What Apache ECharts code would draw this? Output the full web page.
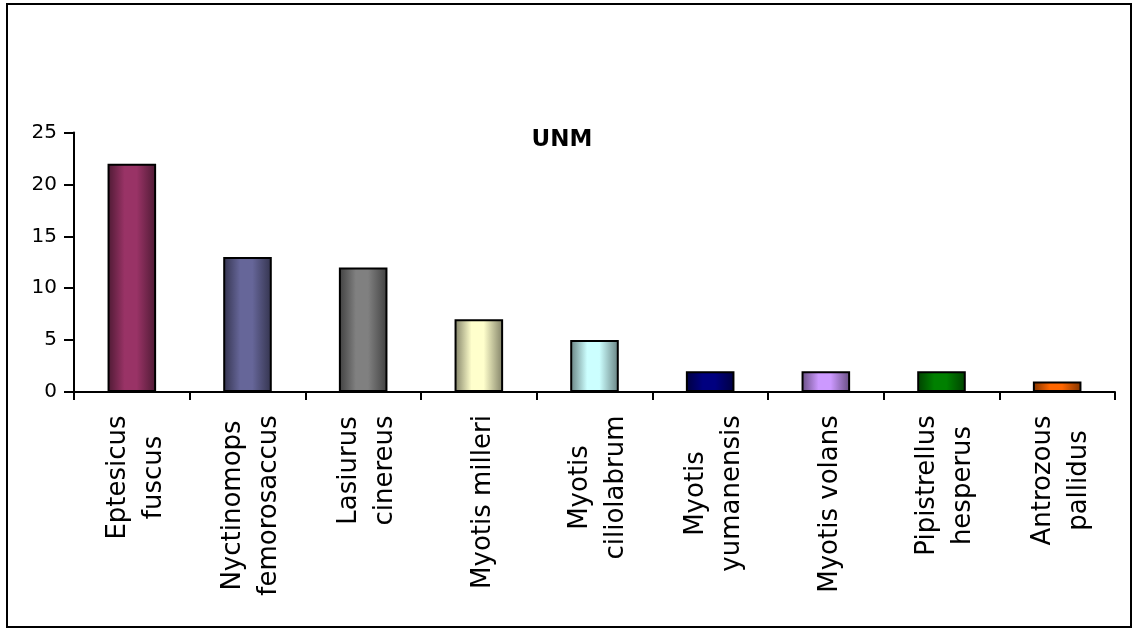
<!DOCTYPE html>
<html>
<head>
<meta charset="utf-8">
<title>UNM</title>
<script src="https://cdn.jsdelivr.net/npm/echarts@6/dist/echarts.min.js"></script>
<style>
  html, body { margin: 0; padding: 0; background: #ffffff; }
  #chart { width: 1133px; height: 630px; }
</style>
</head>
<body>
<div id="chart"></div>
<script>
// Bat species counts
const categories = [
  'Eptesicus\nfuscus',
  'Nyctinomops\nfemorosaccus',
  'Lasiurus\ncinereus',
  'Myotis milleri',
  'Myotis\nciliolabrum',
  'Myotis\nyumanensis',
  'Myotis volans',
  'Pipistrellus\nhesperus',
  'Antrozous\npallidus'
];
const counts = [22, 13, 12, 7, 5, 2, 2, 2, 1];
const barColors = ['#993366', '#666699', '#808080', '#FFFFCC', '#CCFFFF', '#000080', '#CC99FF', '#008000', '#FF6600'];
const yTicks = [0, 5, 10, 15, 20, 25];

const FONT = 'DejaVu Sans';
const LABEL_SIZE = 26;

// darken a hex colour for the bar edges
function shade(hex, f) {
  const n = parseInt(hex.slice(1), 16);
  const r = Math.round(((n >> 16) & 255) * f);
  const g = Math.round(((n >> 8) & 255) * f);
  const b = Math.round((n & 255) * f);
  return 'rgb(' + r + ',' + g + ',' + b + ')';
}

function barGradient(c) {
  const dark = shade(c, 0.5);
  return new echarts.graphic.LinearGradient(0, 0, 1, 0, [
    { offset: 0, color: dark },
    { offset: 0.35, color: c },
    { offset: 0.6, color: c },
    { offset: 1, color: dark }
  ]);
}

// measure lines so that each multi-line label is centred line by line
const measureCtx = document.createElement('canvas').getContext('2d');
measureCtx.font = LABEL_SIZE + 'px "' + FONT + '"';
const rich = {};
categories.forEach(function (name, i) {
  const w = Math.max.apply(null, name.split('\n').map(function (l) { return measureCtx.measureText(l).width; }));
  rich['r' + i] = {
    width: Math.ceil(w) + 2,
    align: 'center',
    fontSize: LABEL_SIZE,
    fontFamily: FONT,
    color: '#000',
    lineHeight: 36
  };
});

const chart = echarts.init(document.getElementById('chart'), null, { renderer: 'canvas' });

chart.setOption({
  animation: false,
  backgroundColor: '#ffffff',
  title: {
    text: 'UNM',
    left: 557,
    top: 135,
    textAlign: 'center',
    textVerticalAlign: 'middle',
    textStyle: { fontFamily: FONT, fontSize: 23, fontWeight: 'bold', color: '#000' }
  },
  graphic: [{
    type: 'rect',
    shape: { x: 7, y: 4, width: 1124, height: 623 },
    style: { fill: 'none', stroke: '#000', lineWidth: 2 },
    silent: true
  }],
  grid: { left: 74, right: 18, top: 132.5, bottom: 238, containLabel: false },
  xAxis: {
    type: 'category',
    data: categories,
    axisLine: { lineStyle: { color: '#000', width: 2 } },
    axisTick: { show: true, length: 8, lineStyle: { color: '#000', width: 2 } },
    axisLabel: {
      interval: 0,
      rotate: 90,
      margin: 22,
      padding: [8, 0, 0, 0],
      formatter: function (value, index) {
        return value.split('\n').map(function (l) { return '{r' + index + '|' + l + '}'; }).join('\n');
      },
      rich: rich
    }
  },
  yAxis: {
    type: 'value',
    min: yTicks[0],
    max: yTicks[yTicks.length - 1],
    interval: yTicks[1] - yTicks[0],
    splitLine: { show: false },
    axisLine: { show: true, lineStyle: { color: '#000', width: 2 } },
    axisTick: { show: true, length: 10, lineStyle: { color: '#000', width: 2 } },
    axisLabel: { margin: 17, fontFamily: FONT, fontSize: 20, color: '#000' }
  },
  series: [{
    type: 'bar',
    barWidth: '42%',
    data: counts.map(function (v, i) {
      return {
        value: v,
        itemStyle: { color: barGradient(barColors[i]), borderColor: '#000', borderWidth: 2 }
      };
    })
  }]
});
</script>
</body>
</html>
